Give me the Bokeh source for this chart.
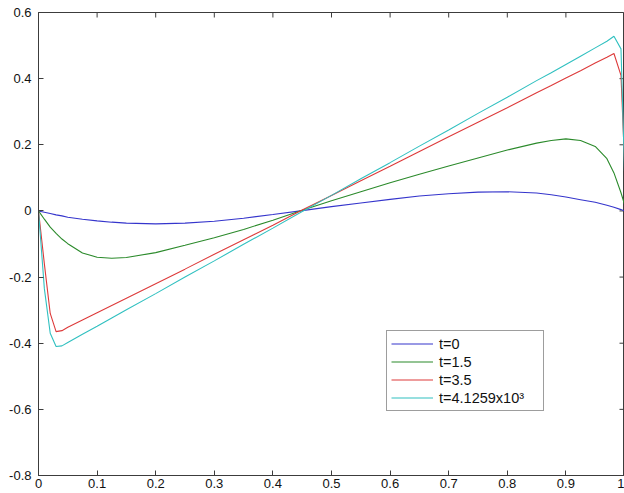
import math

from bokeh.plotting import figure
from bokeh.models import (Range1d, FixedTicker, Legend, LegendItem,
                          ColumnDataSource)
from bokeh.embed import file_html
from bokeh.resources import INLINE

# Spatial mesh (finer near the boundaries where the profiles change fast)
x_pos = [0, 0.01, 0.02, 0.03, 0.04, 0.05, 0.075, 0.1, 0.125, 0.15, 0.2, 0.25,
         0.3, 0.35, 0.4, 0.45, 0.5, 0.55, 0.6, 0.65, 0.7, 0.75, 0.8, 0.85,
         0.875, 0.9, 0.925, 0.95, 0.97, 0.982, 0.994, 1.0]

# Solution profiles u(x, t)
u_t0 = [0, -0.004, -0.008, -0.012, -0.015, -0.019, -0.025, -0.030, -0.034,
        -0.037, -0.039, -0.037, -0.031, -0.022, -0.011, 0.001, 0.013, 0.024,
        0.035, 0.045, 0.052, 0.057, 0.058, 0.054, 0.049, 0.042, 0.034, 0.026,
        0.017, 0.011, 0.004, 0.0]
u_t15 = [0, -0.025, -0.049, -0.068, -0.085, -0.099, -0.127, -0.140, -0.143,
         -0.141, -0.126, -0.104, -0.081, -0.056, -0.028, 0.002, 0.031, 0.058,
         0.085, 0.111, 0.136, 0.160, 0.184, 0.205, 0.213, 0.218, 0.213, 0.195,
         0.158, 0.115, 0.055, 0.02]
u_t35 = [0, -0.16, -0.31, -0.365, -0.362, -0.352, -0.330, -0.308, -0.286,
         -0.264, -0.220, -0.176, -0.131, -0.087, -0.043, 0.003, 0.047, 0.091,
         0.135, 0.180, 0.224, 0.268, 0.312, 0.357, 0.379, 0.402, 0.424, 0.447,
         0.465, 0.476, 0.410, 0.15]
u_tend = [0, -0.235, -0.37, -0.410, -0.408, -0.398, -0.373, -0.349, -0.324,
          -0.299, -0.250, -0.200, -0.151, -0.101, -0.052, -0.002, 0.047, 0.097,
          0.146, 0.196, 0.245, 0.295, 0.344, 0.394, 0.418, 0.443, 0.468, 0.493,
          0.513, 0.528, 0.49, 0.12]

series_labels = ["t=0", "t=1.5", "t=3.5", "t=4.1259x10\u00b3"]
series_colors = ["#3535cc", "#2b8a2b", "#dd3a3a", "#30c0c0"]

x_ticks = [0, 0.1, 0.2, 0.3, 0.4, 0.5, 0.6, 0.7, 0.8, 0.9, 1.0]
x_tick_labels = ["0", "0.1", "0.2", "0.3", "0.4", "0.5", "0.6", "0.7", "0.8", "0.9", "1"]
y_ticks = [-0.8, -0.6, -0.4, -0.2, 0, 0.2, 0.4, 0.6]
y_tick_labels = ["-0.8", "-0.6", "-0.4", "-0.2", "0", "0.2", "0.4", "0.6"]

X_MIN, X_MAX = 0, 1
Y_MIN, Y_MAX = -0.8, 0.6

FONT = "Liberation Sans"
AXIS_COLOR = "#3c3c3c"

src = ColumnDataSource(dict(x=x_pos, t0=u_t0, t15=u_t15, t35=u_t35, tend=u_tend))

p = figure(width=624, height=493, x_range=Range1d(X_MIN, X_MAX),
           y_range=Range1d(Y_MIN, Y_MAX),
           output_backend="svg", toolbar_location=None,
           min_border_left=38, min_border_right=0, min_border_top=12,
           min_border_bottom=18, background_fill_color="white",
           border_fill_color="white")

p.xgrid.visible = False
p.ygrid.visible = False
p.outline_line_color = AXIS_COLOR
p.outline_line_width = 1


def style_axis(ax, ticks, labels, standoff):
    ax.ticker = FixedTicker(ticks=ticks)
    ax.major_label_overrides = {t: l for t, l in zip(ticks, labels)}
    ax.major_tick_in = 5
    ax.major_tick_out = 0
    ax.minor_tick_in = 0
    ax.minor_tick_out = 0
    ax.axis_line_color = AXIS_COLOR
    ax.major_tick_line_color = AXIS_COLOR
    ax.major_label_standoff = standoff
    ax.major_label_text_font = FONT
    ax.major_label_text_color = "#111111"
    ax.major_label_text_font_size = "13px"


style_axis(p.xaxis[0], x_ticks, x_tick_labels, 3)
style_axis(p.yaxis[0], y_ticks, y_tick_labels, 7)

# Inward tick marks on the top and right edges of the box (half of each
# dash marker is clipped away by the frame)
p.scatter(x=x_ticks, y=[Y_MAX] * len(x_ticks), marker="dash", size=10,
          angle=math.pi / 2, line_color=AXIS_COLOR, line_width=1)
p.scatter(x=[X_MAX] * len(y_ticks), y=y_ticks, marker="dash", size=10,
          line_color=AXIS_COLOR, line_width=1)

renderers = []
for col, color in zip(["t0", "t15", "t35", "tend"], series_colors):
    r = p.line(x="x", y=col, source=src, line_color=color, line_width=1.1)
    renderers.append(r)

legend = Legend(items=[LegendItem(label=lab, renderers=[r])
                       for lab, r in zip(series_labels, renderers)],
                location=(348, 64), margin=0, padding=4, spacing=1,
                glyph_width=42, glyph_height=17, label_height=17,
                label_width=100, label_standoff=6, label_text_font=FONT,
                label_text_font_size="14.5px", label_text_color="#111111",
                border_line_color=AXIS_COLOR, border_line_width=1,
                background_fill_color="white", background_fill_alpha=1.0)
p.add_layout(legend, "center")

open("out.html", "w").write(file_html(p, INLINE))
